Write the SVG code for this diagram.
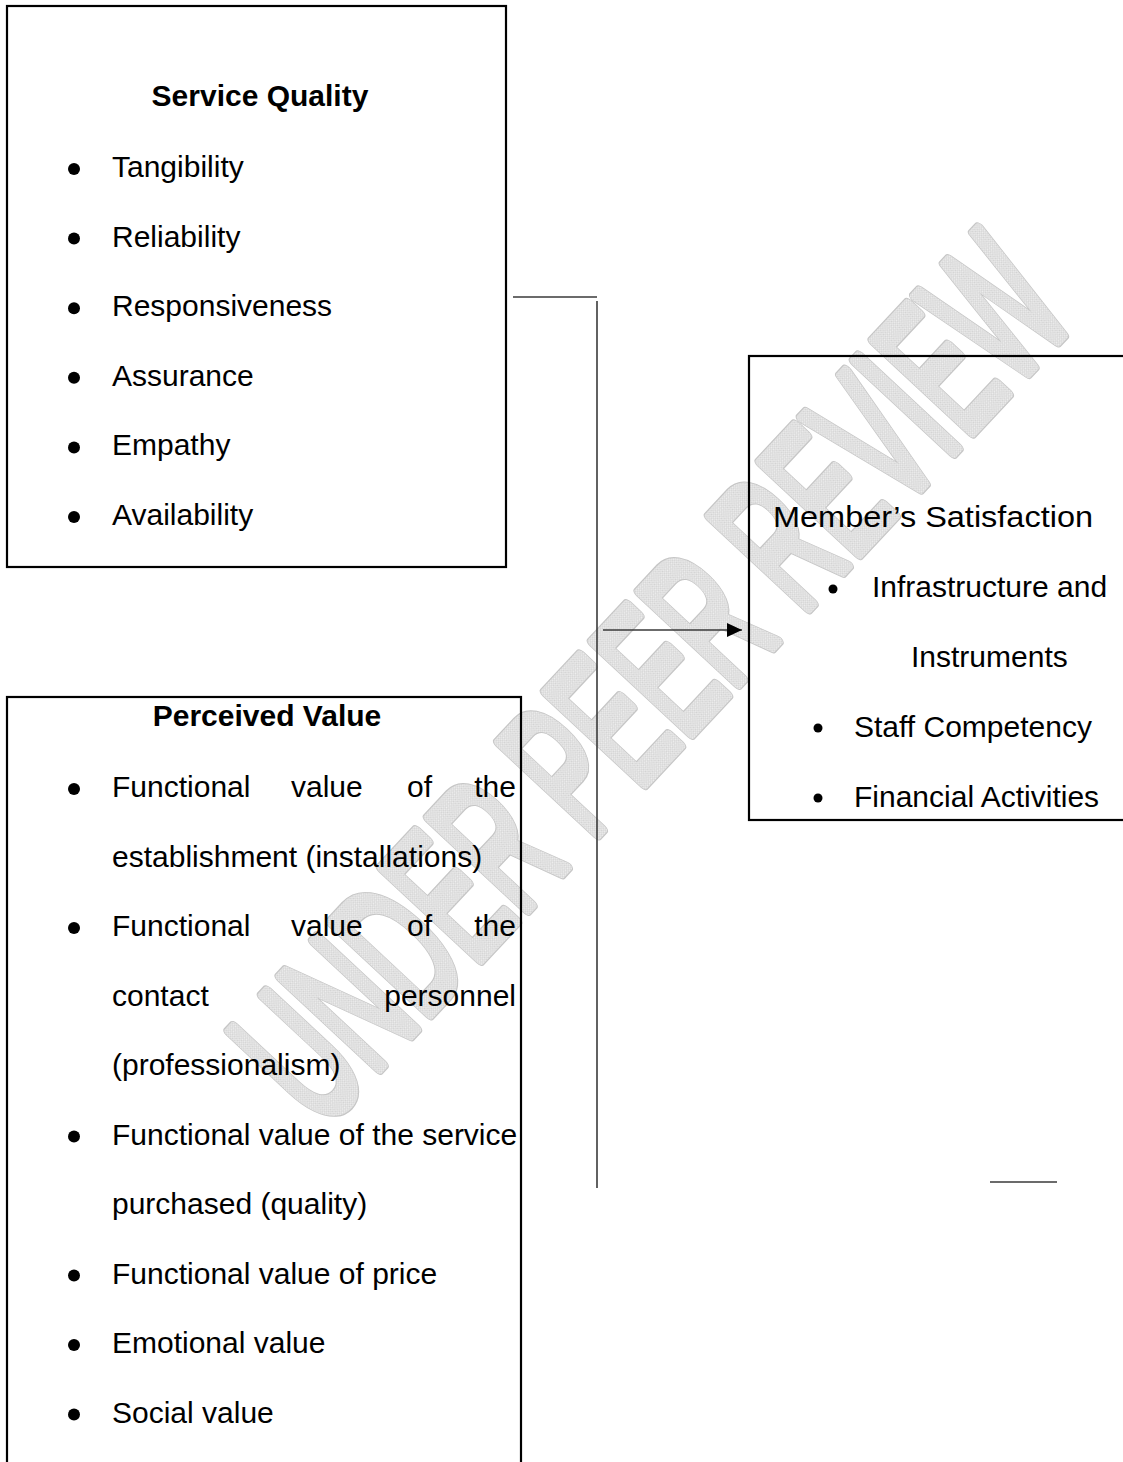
<svg xmlns="http://www.w3.org/2000/svg" width="1123" height="1462" viewBox="0 0 1123 1462">
<style>
  .box { fill: none; stroke: #000; stroke-width: 2.2; }
  .t { font-family: "Liberation Sans", Arial, sans-serif; font-size: 30px; fill: #000; }
  .b { font-weight: bold; }
  .conn { stroke: #3a3a3a; stroke-width: 1.6; fill: none; }
  .wm { font-family: "Liberation Sans", Arial, sans-serif; font-size: 195px; stroke-linejoin: round; stroke-linecap: round; }
  .wm-out { fill: #c6c6c6; stroke: #c6c6c6; stroke-width: 13; }
  .wm-in { fill: url(#hatch); stroke: url(#hatch); stroke-width: 10.5; }
</style>
<defs>
  <pattern id="hatch" width="3" height="3" patternUnits="userSpaceOnUse">
    <rect width="3" height="3" fill="#efefef"/>
    <rect width="1.5" height="1.5" fill="#d2d2d2"/>
    <rect x="1.5" y="1.5" width="1.5" height="1.5" fill="#d2d2d2"/>
  </pattern>
  <marker id="arrow" markerWidth="16" markerHeight="14" refX="15" refY="7" orient="auto" markerUnits="userSpaceOnUse">
    <path d="M0,0 L15,7 L0,14 Z" fill="#000"/>
  </marker>
</defs>
<rect width="1123" height="1462" fill="#fff"/>

<g id="watermark" transform="translate(650,678) rotate(-47)">
  <text class="wm wm-out" x="0" y="68" text-anchor="middle" textLength="1110" lengthAdjust="spacingAndGlyphs">UNDER PEER REVIEW</text>
  <text class="wm wm-in" x="0" y="68" text-anchor="middle" textLength="1110" lengthAdjust="spacingAndGlyphs">UNDER PEER REVIEW</text>
</g>

<g id="connectors">
  <line class="conn" x1="513" y1="297" x2="597" y2="297"/>
  <line class="conn" x1="597" y1="301" x2="597" y2="1188"/>
  <line class="conn" x1="603" y1="630" x2="742" y2="630" marker-end="url(#arrow)"/>
  <line class="conn" x1="990" y1="1182" x2="1057" y2="1182"/>
</g>

<g id="service-quality">
  <rect class="box" x="7" y="6" width="499" height="561"/>
  <text class="t b" x="260" y="106" text-anchor="middle">Service Quality</text>
  <g fill="#000">
    <circle cx="74" cy="169" r="6"/>
    <circle cx="74" cy="238.6" r="6"/>
    <circle cx="74" cy="308.2" r="6"/>
    <circle cx="74" cy="377.8" r="6"/>
    <circle cx="74" cy="447.4" r="6"/>
    <circle cx="74" cy="517" r="6"/>
  </g>
  <text class="t" x="112" y="177">Tangibility</text>
  <text class="t" x="112" y="246.6">Reliability</text>
  <text class="t" x="112" y="316.2">Responsiveness</text>
  <text class="t" x="112" y="385.8">Assurance</text>
  <text class="t" x="112" y="455.4">Empathy</text>
  <text class="t" x="112" y="525">Availability</text>
</g>

<g id="perceived-value">
  <rect class="box" x="7" y="697" width="514" height="800"/>
  <text class="t b" x="267" y="726" text-anchor="middle">Perceived Value</text>
  <g fill="#000">
    <circle cx="74" cy="789" r="6"/>
    <circle cx="74" cy="928" r="6"/>
    <circle cx="74" cy="1136.5" r="6"/>
    <circle cx="74" cy="1275.5" r="6"/>
    <circle cx="74" cy="1345" r="6"/>
    <circle cx="74" cy="1414.5" r="6"/>
  </g>
  <text class="t" x="112" y="797">Functional</text>
  <text class="t" x="291" y="797">value</text>
  <text class="t" x="407" y="797">of</text>
  <text class="t" x="516" y="797" text-anchor="end">the</text>
  <text class="t" x="112" y="866.5">establishment (installations)</text>
  <text class="t" x="112" y="936">Functional</text>
  <text class="t" x="291" y="936">value</text>
  <text class="t" x="407" y="936">of</text>
  <text class="t" x="516" y="936" text-anchor="end">the</text>
  <text class="t" x="112" y="1005.5">contact</text>
  <text class="t" x="516" y="1005.5" text-anchor="end">personnel</text>
  <text class="t" x="112" y="1075">(professionalism)</text>
  <text class="t" x="112" y="1144.5">Functional value of the service</text>
  <text class="t" x="112" y="1214">purchased (quality)</text>
  <text class="t" x="112" y="1283.5">Functional value of price</text>
  <text class="t" x="112" y="1353">Emotional value</text>
  <text class="t" x="112" y="1422.5">Social value</text>
</g>

<g id="members-satisfaction">
  <rect class="box" x="749" y="356" width="400" height="464"/>
  <text class="t" x="773" y="527" textLength="320" lengthAdjust="spacingAndGlyphs">Member’s Satisfaction</text>
  <g fill="#000">
    <circle cx="833" cy="589" r="4.5"/>
    <circle cx="818" cy="728" r="4.5"/>
    <circle cx="818" cy="798" r="4.5"/>
  </g>
  <text class="t" x="872" y="597">Infrastructure and</text>
  <text class="t" x="911" y="667">Instruments</text>
  <text class="t" x="854" y="737">Staff Competency</text>
  <text class="t" x="854" y="807">Financial Activities</text>
</g>
</svg>
